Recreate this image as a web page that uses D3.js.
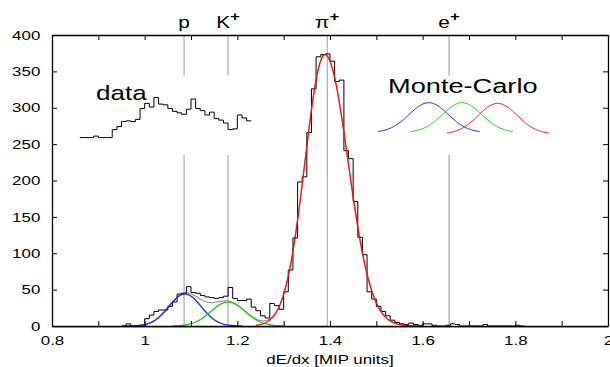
<!DOCTYPE html>
<html>
<head>
<meta charset="utf-8">
<script src="https://d3js.org/d3.v7.min.js"></script>
<style>
  body { margin: 0; background: #fff; }
  svg { display: block; font-family: "Liberation Sans", Arial, sans-serif; }
</style>
</head>
<body>
<svg id="viz"></svg>
<script>
// dE/dx spectrum with particle bands, fits and two small insets

// main histogram: bins of 0.01 starting at histStart
const histStart = 0.95;
const histWidth = 0.01;
const histCounts = [
  0, 3, 0, 0, 0, 10, 15, 20, 22, 22,          // 0.95 - 1.04
  27, 33, 44, 45, 54, 46, 45, 42, 40, 39,     // 1.05 - 1.14
  38, 39, 41, 53, 38, 35, 35, 37, 26, 21,     // 1.15 - 1.24
  14, 11, 31, 28, 23, 47, 77, 121, 198, 205,  // 1.25 - 1.34
  266, 326, 370, 373, 374, 364, 336, 338, 241, 230, // 1.35 - 1.44
  171, 122, 98, 47, 37, 27, 20, 14, 8, 5,     // 1.45 - 1.54
  3, 2, 4, 2, 1, 3, 3, 1, 0, 0,               // 1.55 - 1.64
  1, 3, 2, 0, 0, 0, 0, 0, 2, 0,               // 1.65 - 1.74
  0, 0, 0, 0, 0, 1, 0                         // 1.75 - 1.81
];

// "data" inset, drawn in the same units, bins of 0.01 from 0.86
const dataInsetStart = 0.86;
const dataInsetValues = [
  259, 259, 259, 261, 259, 259, 259, 270, 274, 281,
  282, 281, 284, 299, 306, 301, 314, 305, 304, 299,
  295, 293, 291, 298, 312, 299, 296, 290, 294, 285,
  283, 279, 270, 271, 290, 286, 282
];

// gaussian fits on the main histogram (pion one is a bit skewed)
const fitColors = ["#1f1fff", "#10d010", "#ff1010"];
const fitMean   = [1.087, 1.180, 1.389];
const fitSigL   = [0.035, 0.037, 0.043];
const fitSigR   = [0.035, 0.037, 0.050];
const fitAmp    = [44, 33, 373];
const fitFrom   = [0.96, 1.06, 1.24];
const fitTo     = [1.21, 1.30, 1.60];

// "Monte-Carlo" inset curves
const mcMean = [1.613, 1.685, 1.762];
const mcSigma = 0.042;
const mcAmp  = [41, 41, 42];
const mcBase = [266, 266, 264];
const mcHalf = 0.11;

// particle markers
const partNames = ["p", "K", "π", "e"];
const partX = [1.085, 1.18, 1.394, 1.657];
const partGap = [true, true, false, true];   // line interrupted by the insets
const gapRange = [235, 344];

const xTicks = [0.8, 1.0, 1.2, 1.4, 1.6, 1.8, 2.0];
const yTicks = d3.range(0, 401, 50);

const width = 610, height = 367;
const margin = {left: 52, right: 2, top: 35, bottom: 41};
const stretch = 1.3;  // text in the original is wide

const svg = d3.select("#viz").attr("width", width).attr("height", height);

const x = d3.scaleLinear().domain([0.8, 2.0]).range([margin.left, width - margin.right]);
const y = d3.scaleLinear().domain([0, 400]).range([height - margin.bottom, margin.top]);

function gauss(v, m, sl, sr, a) {
  const s = v < m ? sl : sr;
  return a * Math.exp(-(v - m) * (v - m) / (2 * s * s));
}

const line = d3.line().x(d => x(d[0])).y(d => y(d[1]));

// vertical particle lines
partX.forEach(function(px, i) {
  const segs = partGap[i] ? [[0, gapRange[0]], [gapRange[1], 400]] : [[0, 400]];
  segs.forEach(function(s) {
    svg.append("line")
      .attr("x1", x(px)).attr("x2", x(px))
      .attr("y1", y(s[0])).attr("y2", y(s[1]))
      .attr("stroke", "#999").attr("stroke-width", 1);
  });
  const t = svg.append("text")
    .attr("transform", "translate(" + x(px) + ",28) scale(" + stretch + ",1)")
    .attr("text-anchor", "middle")
    .attr("font-size", 16);
  t.append("tspan").text(partNames[i]);
  if (partNames[i] !== "p") {
    t.append("tspan").attr("font-size", 13).attr("font-weight", "bold").attr("dy", -7).text("+");
  }
});

// cyan zero line
svg.append("line")
  .attr("x1", x(0.8)).attr("x2", x(2.0))
  .attr("y1", y(0) + 1).attr("y2", y(0) + 1)
  .attr("stroke", "#30a8c8").attr("stroke-width", 1.2);

// sum of the fits
const sumPts = d3.range(0.95, 1.6, 0.002).map(function(v) {
  let s = 0;
  fitMean.forEach((m, i) => { s += gauss(v, m, fitSigL[i], fitSigR[i], fitAmp[i]); });
  return [v, s];
});
svg.append("path").attr("d", line(sumPts))
  .attr("fill", "none").attr("stroke", "#999").attr("stroke-width", 1.2);

// main histogram
const histPts = histCounts.map((c, i) => [histStart + i * histWidth, c]);
histPts.push([histStart + histCounts.length * histWidth, 0]);
svg.append("path")
  .attr("d", line.curve(d3.curveStepAfter)(histPts))
  .attr("fill", "none").attr("stroke", "#000").attr("stroke-width", 1);

// data inset
const insetPts = dataInsetValues.map((c, i) => [dataInsetStart + i * histWidth, c]);
insetPts.push([dataInsetStart + dataInsetValues.length * histWidth, dataInsetValues[dataInsetValues.length - 1]]);
svg.append("path")
  .attr("d", line.curve(d3.curveStepAfter)(insetPts))
  .attr("fill", "none").attr("stroke", "#000").attr("stroke-width", 1);

line.curve(d3.curveLinear);

// fitted gaussians
fitMean.forEach(function(m, i) {
  const pts = d3.range(fitFrom[i], fitTo[i] + 1e-9, 0.002)
    .map(v => [v, gauss(v, m, fitSigL[i], fitSigR[i], fitAmp[i])]);
  svg.append("path").attr("d", line(pts))
    .attr("fill", "none").attr("stroke", fitColors[i]).attr("stroke-width", 1.3);
});

// Monte-Carlo inset
mcMean.forEach(function(m, i) {
  const pts = d3.range(m - mcHalf, m + mcHalf + 1e-9, 0.002)
    .map(v => [v, mcBase[i] + gauss(v, m, mcSigma, mcSigma, mcAmp[i])]);
  svg.append("path").attr("d", line(pts))
    .attr("fill", "none").attr("stroke", fitColors[i]).attr("stroke-width", 1);
});

// inset labels
svg.append("text")
  .attr("transform", "translate(96,100) scale(" + stretch + ",1)")
  .attr("font-size", 20).text("data");
svg.append("text")
  .attr("transform", "translate(388,93) scale(1.36,1)")
  .attr("font-size", 20).text("Monte-Carlo");

// axes: ticks inside on all four sides
const xMinor = d3.range(0.8, 2.001, 0.1);

svg.append("g").attr("transform", "translate(0," + y(0) + ")")
  .call(d3.axisBottom(x).tickValues(xMinor).tickSize(-5).tickSizeOuter(0).tickFormat(""));
svg.append("g").attr("transform", "translate(0," + y(400) + ")")
  .call(d3.axisTop(x).tickValues(xMinor).tickSize(-5).tickSizeOuter(0).tickFormat(""));
svg.append("g").attr("transform", "translate(" + x(0.8) + ",0)")
  .call(d3.axisLeft(y).tickValues(yTicks).tickSize(-5).tickSizeOuter(0).tickPadding(9));
svg.append("g").attr("transform", "translate(" + x(2.0) + ",0)")
  .call(d3.axisRight(y).tickValues(yTicks).tickSize(-5).tickSizeOuter(0).tickFormat(""));

// x labels (the "2" sits on the right edge and is clipped, as in the original)
svg.append("g").attr("transform", "translate(0," + y(0) + ")")
  .call(d3.axisBottom(x).tickValues(xTicks).tickSize(0).tickPadding(10).tickFormat(d3.format("~g")))
  .call(g => g.select(".domain").remove());

svg.selectAll(".tick text")
  .attr("font-size", 13)
  .attr("font-family", "Liberation Sans, Arial, sans-serif")
  .attr("fill", "#000")
  .attr("transform", "scale(" + stretch + ",1)");
svg.selectAll(".domain").attr("stroke", "#000").attr("stroke-width", 1.3);

// x axis title
svg.append("text")
  .attr("transform", "translate(" + ((x(0.8) + x(2.0)) / 2) + ",364) scale(" + stretch + ",1)")
  .attr("text-anchor", "middle").attr("font-size", 13)
  .text("dE/dx [MIP units]");
</script>
</body>
</html>
